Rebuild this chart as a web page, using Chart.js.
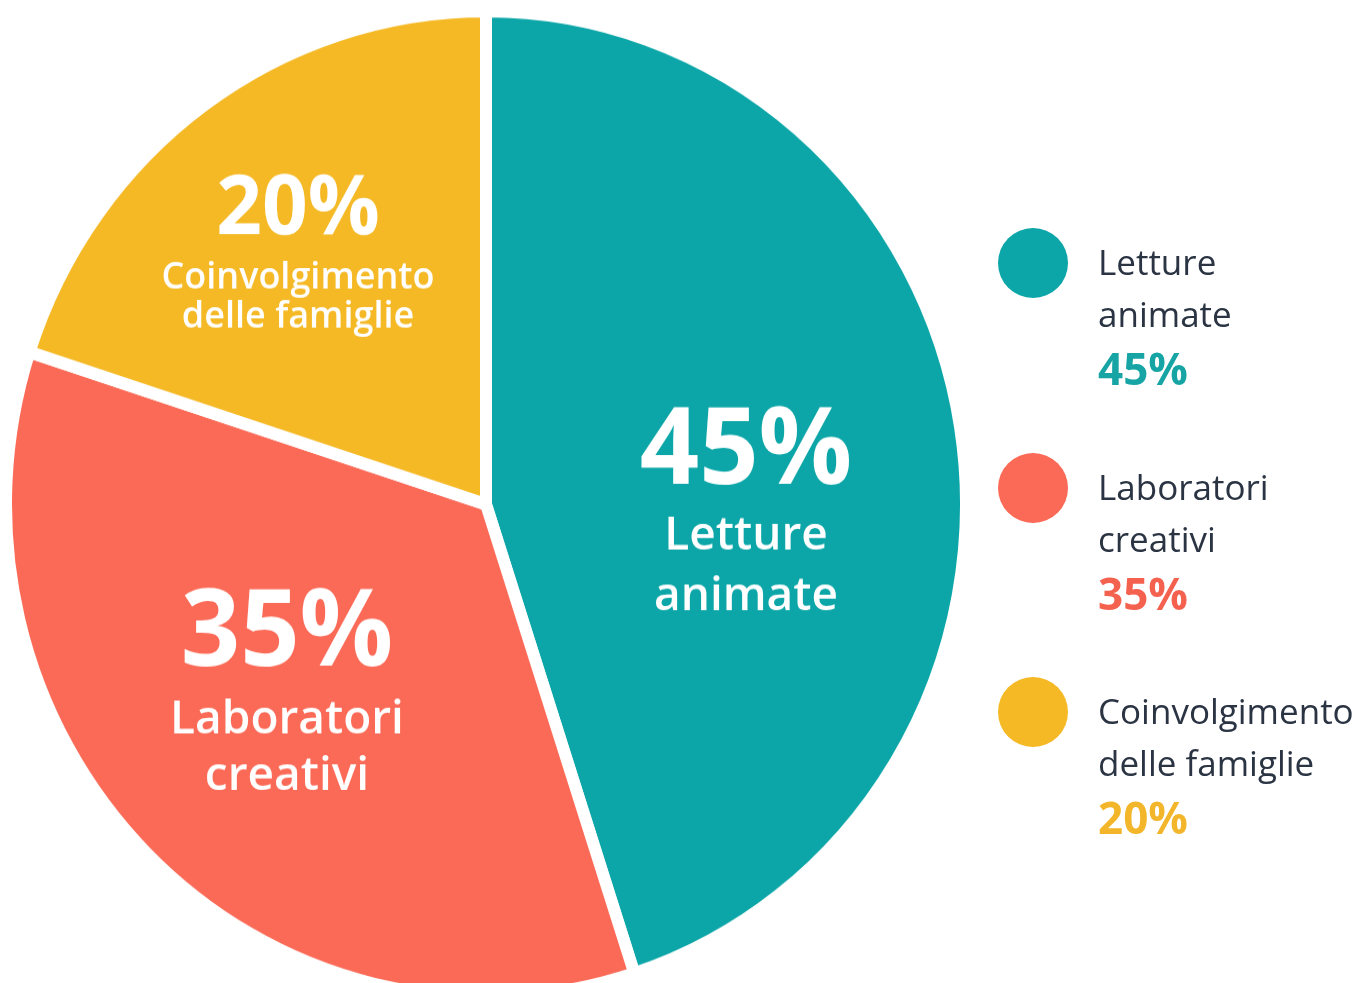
<!DOCTYPE html>
<html>
<head>
<meta charset="utf-8">
<title>Attività</title>
<script src="https://cdn.jsdelivr.net/npm/chart.js@4.4.1/dist/chart.umd.min.js"></script>
<style>
    html, body { margin: 0; padding: 0; background: #fff; width: 1363px; height: 983px; overflow: hidden; }
    #pieWrap {
        position: absolute; left: 0px; top: 4.7px; width: 972px; height: 972px;
        transform: scaleY(1.0274); transform-origin: 0 0;
    }
    #legend { position: absolute; left: 0; top: 0; width: 1363px; height: 983px; }
    .dot { position: absolute; width: 70px; height: 70px; border-radius: 50%; }
    .lg { position: absolute; white-space: nowrap; line-height: 1; font-family: "Open Sans", sans-serif; }
</style>
</head>
<body>
<div id="pieWrap"><canvas id="pieChart" width="972" height="972"></canvas></div>
<div id="legend"></div>
<script>
// Data
const categories = ['Letture animate', 'Laboratori creativi', 'Coinvolgimento delle famiglie'];
const shares = [45, 35, 20];
const labelLines = [['Letture', 'animate'], ['Laboratori', 'creativi'], ['Coinvolgimento', 'delle famiglie']];

// Colors
const sliceColors = ['#0ca6a8', '#fb6a57', '#f5b925'];
const pctColors = ['#16a4a5', '#f4614f', '#f3b62a'];

// Label layout (page px): x centre, baselines for percent / line 1 / line 2
const insideLabels = [
    { x: 746, y: [483, 549, 610], pct: 104, txt: 46 },
    { x: 287, y: [665, 733, 790], pct: 104, txt: 46 },
    { x: 298, y: [234, 288, 327], pct: 80, txt: 36 }
];
const legendBaselines = [275, 500, 724];

const WRAP_LEFT = 0, WRAP_TOP = 4.7, STRETCH = 1.0274;

// Draw the white labels inside the slices
const sliceLabels = {
    id: 'sliceLabels',
    afterDatasetsDraw(chart) {
        const ctx = chart.ctx;
        ctx.save();
        ctx.fillStyle = '#ffffff';
        ctx.textAlign = 'center';
        ctx.textBaseline = 'alphabetic';
        insideLabels.forEach((l, i) => {
            const x = l.x - WRAP_LEFT;
            const ys = l.y.map(v => (v - WRAP_TOP) / STRETCH);
            ctx.font = `700 ${l.pct}px "Open Sans"`;
            ctx.fillText(`${shares[i]}%`, x, ys[0]);
            ctx.font = `600 ${l.txt}px "Open Sans"`;
            ctx.fillText(labelLines[i][0], x, ys[1]);
            ctx.fillText(labelLines[i][1], x, ys[2]);
        });
        ctx.restore();
    }
};

new Chart(document.getElementById('pieChart').getContext('2d'), {
    type: 'pie',
    data: {
        labels: categories,
        datasets: [{
            data: shares,
            backgroundColor: sliceColors,
            borderColor: '#ffffff',
            borderWidth: 12
        }]
    },
    options: {
        responsive: false,
        animation: false,
        devicePixelRatio: 1,
        layout: { padding: 0 },
        plugins: {
            legend: { display: false },
            tooltip: { enabled: false }
        }
    },
    plugins: [sliceLabels]
});

// HTML legend
const legend = document.getElementById('legend');
function addText(text, x, baseline, size, weight, color) {
    const el = document.createElement('div');
    el.className = 'lg';
    el.textContent = text;
    el.style.left = x + 'px';
    el.style.top = (baseline - 0.888 * size) + 'px';
    el.style.fontSize = size + 'px';
    el.style.fontWeight = weight;
    el.style.color = color;
    legend.appendChild(el);
}
categories.forEach((c, i) => {
    const b = legendBaselines[i];
    const dot = document.createElement('div');
    dot.className = 'dot';
    dot.style.background = sliceColors[i];
    dot.style.left = (1033 - 35) + 'px';
    dot.style.top = (b - 12 - 35) + 'px';
    legend.appendChild(dot);
    addText(labelLines[i][0], 1098, b, 35, 500, '#2b3443');
    addText(labelLines[i][1], 1098, b + 52, 35, 500, '#2b3443');
    addText(`${shares[i]}%`, 1098, b + 110, 44, 700, pctColors[i]);
});
</script>
</body>
</html>
